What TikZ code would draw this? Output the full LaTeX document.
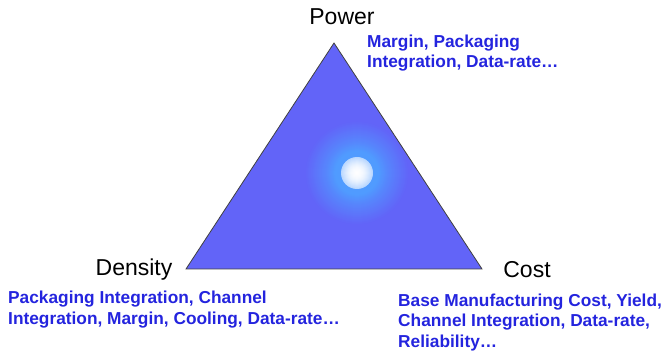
\documentclass[tikz,border=0pt]{standalone}
\usepackage{fontspec}
\setmainfont{Liberation Sans}
\usepackage{tikz}

\definecolor{trifill}{RGB}{98,100,248}
\definecolor{noteblue}{RGB}{36,36,222}
\definecolor{glowedge}{RGB}{185,215,255}
\definecolor{glowmid}{RGB}{80,155,255}

\tikzset{
  corner/.style={font=\fontsize{23}{26}\selectfont, inner sep=0pt, anchor=base},
  % base anchor of a multi-line note sits on its last line
  note/.style={font=\fontsize{17.3}{20.3}\selectfont\bfseries, text=noteblue,
    align=left, inner sep=0pt, anchor=base west}
}

\begin{document}
\begin{tikzpicture}[x=1pt,y=-1pt]
\useasboundingbox (0,0) rectangle (661,355);

\coordinate (top) at (334,43);
\coordinate (left) at (186,269);
\coordinate (right) at (482,269);
\coordinate (glow) at (357,173);

\fill[trifill] (top) -- (left) -- (right) -- cycle;

% halo, ring by ring from the outside in
\foreach \r in {52,51,...,17} {
  \pgfmathtruncatemacro\p{\r<22 ? 100 : (\r<32 ? 100-4*(\r-22) : max(0,60-3*(\r-32)))}
  \fill[glowmid!\p!trifill] (glow) circle (\r);
}
% bright core
\foreach \r in {16,15,...,1} {
  \pgfmathtruncatemacro\p{100*(1-(\r/16)^2)}
  \fill[white!\p!glowedge] (glow) circle (\r);
}

\draw[black!75, line width=0.8pt, line join=miter] (top) -- (left) -- (right) -- cycle;

\node[corner] (power) at (342,25) {Power};
\node[corner] (density) at (134,276) {Density};
\node[corner] (cost) at (527,277) {Cost};

\node[note] (powernote) at (367,68) {Margin, Packaging\\Integration, Data-rate\dots};
\node[note] (densitynote) at (8,324) {Packaging Integration, Channel\\Integration, Margin, Cooling, Data-rate\dots};
\node[note] (costnote) at (398,347) {Base Manufacturing Cost, Yield,\\Channel Integration, Data-rate,\\Reliability\dots};
\end{tikzpicture}
\end{document}
